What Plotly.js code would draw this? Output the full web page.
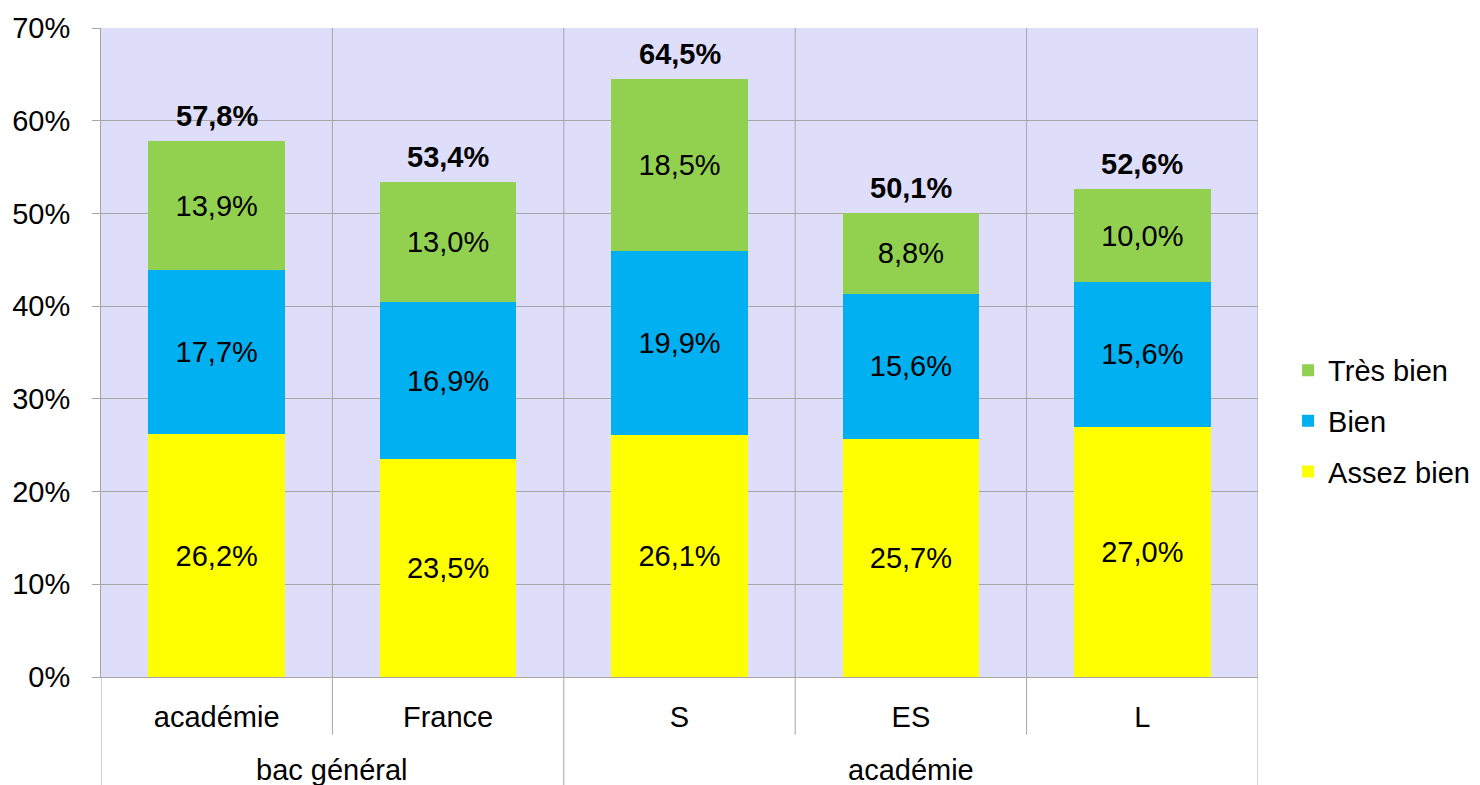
<!DOCTYPE html>
<html>
<head>
<meta charset="utf-8">
<script src="https://cdn.plot.ly/plotly-3.0.1.min.js"></script>
<style>html,body{margin:0;padding:0;background:#fff;}#chart{width:1480px;height:785px;}</style>
</head>
<body>
<div id="chart"></div>
<script>
const groups = ['bac général', 'bac général', 'académie', 'académie', 'académie'];
const categories = ['académie', 'France', 'S', 'ES', 'L'];
const assezBien = [26.2, 23.5, 26.1, 25.7, 27.0];
const bien = [17.7, 16.9, 19.9, 15.6, 15.6];
const tresBien = [13.9, 13.0, 18.5, 8.8, 10.0];
const totals = [57.8, 53.4, 64.5, 50.1, 52.6];
const yTicks = [0, 10, 20, 30, 40, 50, 60, 70];

const FS = 29;
const FAM = 'Liberation Sans, Arial, sans-serif';
const GRID = '#A6A6A6';
const idx = categories.map((c, i) => i);

function barTrace(name, vals, color, rank) {
  return {
    type: 'bar', name: name, x: idx, y: vals, legendgroup: name, legendrank: rank,
    marker: {color: color, line: {width: 0}},
    texttemplate: '%{y:.1f}%', textposition: 'inside', insidetextanchor: 'middle',
    textangle: 0, constraintext: 'none',
    textfont: {family: FAM, size: FS, color: '#000'},
    hoverinfo: 'skip'
  };
}

const traces = [
  barTrace('Assez bien', assezBien, '#FFFF00', 3),
  barTrace('Bien', bien, '#00B0F0', 2),
  barTrace('Très bien', tresBien, '#92D050', 1)
];

const annotations = totals.map((t, i) => ({
  x: i, y: t, xref: 'x', yref: 'y',
  text: '<b>' + t.toFixed(1).replace('.', ',') + '%</b>',
  showarrow: false, yanchor: 'middle', yshift: 25,
  font: {family: FAM, size: FS, color: '#000'}
}));

// group labels and boundaries derived from groups array
const groupNames = [];
const groupStart = [];
const groupEnd = [];
groups.forEach((g, i) => {
  if (i === 0 || groups[i - 1] !== g) { groupNames.push(g); groupStart.push(i); groupEnd.push(i); }
  else { groupEnd[groupEnd.length - 1] = i; }
});
groupNames.forEach((g, k) => {
  annotations.push({
    x: (groupStart[k] + groupEnd[k]) / 2, y: -0.143, xref: 'x', yref: 'paper',
    text: g, showarrow: false, yanchor: 'middle',
    font: {family: FAM, size: FS, color: '#000'}
  });
});

const shapes = [];
const outerB = new Set([-0.5]);
groupEnd.forEach(e => outerB.add(e + 0.5));
for (let i = 0; i < categories.length + 1; i++) {
  const b = i - 0.5;
  const outer = outerB.has(b);
  shapes.push({
    type: 'line', xref: 'x', yref: 'paper', x0: b, x1: b, y0: 0,
    y1: outer ? -0.17 : -0.089,
    line: {color: GRID, width: 1}
  });
}
// vertical grid lines at category boundaries inside the plot
for (let i = 1; i <= categories.length; i++) {
  shapes.push({
    type: 'line', xref: 'x', yref: 'paper', x0: i - 0.5, x1: i - 0.5, y0: 0, y1: 1,
    line: {color: GRID, width: 1}, layer: 'below'
  });
}

const layout = {
  width: 1480, height: 785,
  margin: {l: 101, r: 222, t: 28, b: 108, autoexpand: false},
  paper_bgcolor: '#FFFFFF',
  plot_bgcolor: '#DEDEFB',
  barmode: 'stack',
  bargap: 0.41,
  separators: ',.',
  showlegend: true,
  font: {family: FAM, size: FS, color: '#000'},
  legend: {
    x: 1.026, xanchor: 'left', y: 0.394, yanchor: 'middle',
    traceorder: 'grouped', tracegroupgap: 10,
    font: {family: FAM, size: FS, color: '#000'},
    bgcolor: 'rgba(0,0,0,0)'
  },
  xaxis: {
    type: 'linear', range: [-0.5, categories.length - 0.5],
    tickvals: idx, ticktext: categories,
    showgrid: false, ticks: '', zeroline: false,
    showline: true, linecolor: GRID, linewidth: 1,
    ticklabelstandoff: 14,
    tickfont: {family: FAM, size: FS, color: '#000'},
    fixedrange: true
  },
  yaxis: {
    range: [0, 70], tickvals: yTicks, ticktext: yTicks.map(v => v + '%'),
    showgrid: true, gridcolor: GRID, gridwidth: 1,
    zeroline: false,
    showline: true, linecolor: GRID, linewidth: 1,
    ticks: 'outside', ticklen: 8, tickcolor: GRID,
    ticklabelstandoff: 16,
    tickfont: {family: FAM, size: FS, color: '#000'},
    fixedrange: true
  },
  annotations: annotations,
  shapes: shapes
};

Plotly.newPlot('chart', traces, layout, {displayModeBar: false, staticPlot: true});
</script>
</body>
</html>
